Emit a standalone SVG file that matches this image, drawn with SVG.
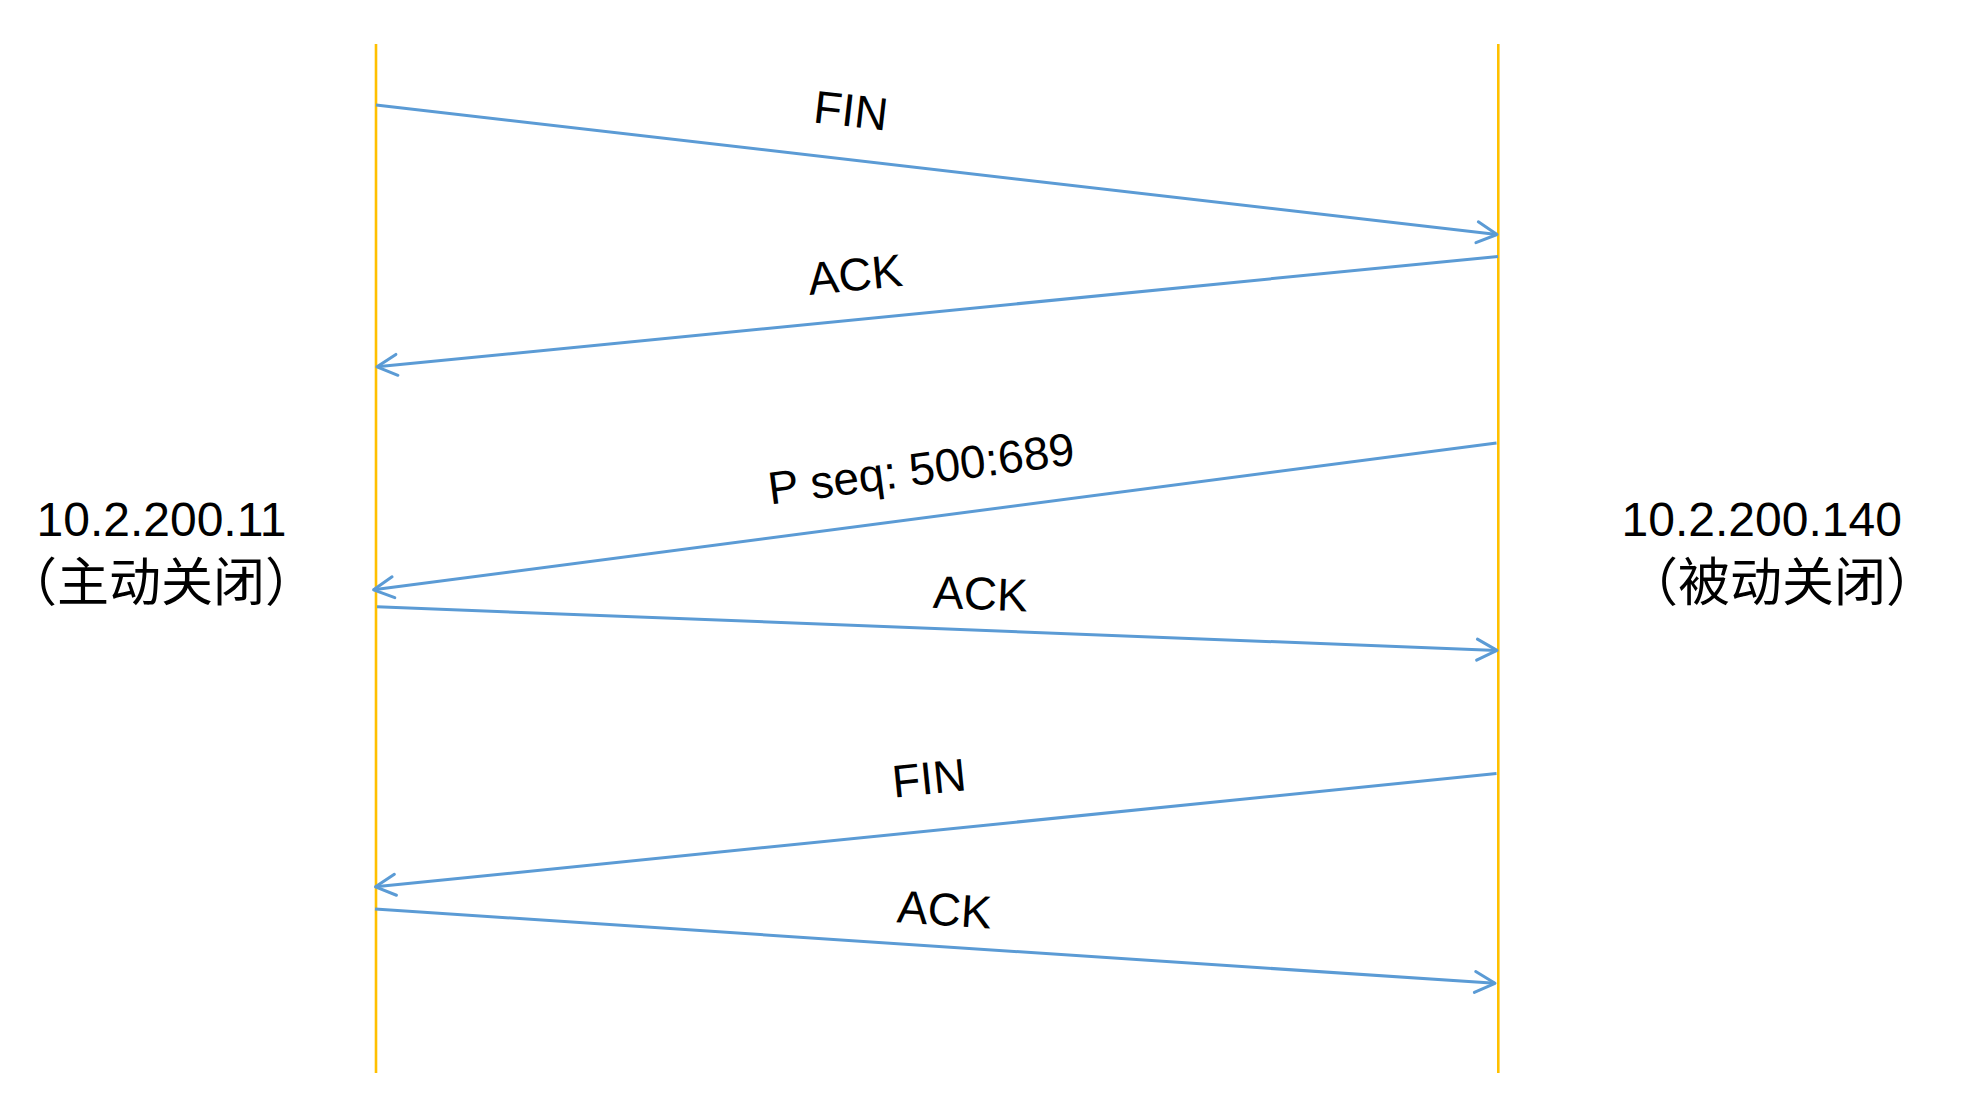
<svg xmlns="http://www.w3.org/2000/svg" width="1986" height="1120" viewBox="0 0 1986 1120">
  <style>
    .life { stroke: #FFC000; stroke-width: 2.6; fill: none; }
    .msg { stroke: #5B9BD5; stroke-width: 3; fill: none; marker-end: url(#arrow); }
    .lbl { font-family: "Liberation Sans", Arial, sans-serif; font-size: 46px; fill: #000; text-anchor: middle; }
    .ip { font-family: "Liberation Sans", Arial, sans-serif; font-size: 48px; fill: #000; text-anchor: middle; }
    .cn { font-family: "Liberation Sans", "Noto Sans CJK SC", sans-serif; font-size: 52px; fill: #000; text-anchor: middle; }
  </style>
  <defs>
    <marker id="arrow" markerUnits="userSpaceOnUse" viewBox="-26 -15 30 30" refX="0" refY="0" markerWidth="30" markerHeight="30" orient="auto">
      <path d="M -20 -10.5 L 0 0 L -20 10.5" fill="none" stroke="#5B9BD5" stroke-width="3" stroke-linecap="round" stroke-linejoin="round"/>
    </marker>
  </defs>
  <rect width="1986" height="1120" fill="#FFFFFF"/>

  <g id="host-active">
    <line class="life" x1="376" y1="44" x2="376" y2="1073"/>
    <text class="ip" x="161.5" y="536">10.2.200.11</text>
    <text class="cn" x="161" y="601">（主动关闭）</text>
  </g>

  <g id="host-passive">
    <line class="life" x1="1498.3" y1="44" x2="1498.3" y2="1073"/>
    <text class="ip" x="1761.7" y="536">10.2.200.140</text>
    <text class="cn" x="1782" y="601">（被动关闭）</text>
  </g>

  <g id="connectors">
    <line class="msg" x1="376" y1="105" x2="1497" y2="234.5"/>
    <line class="msg" x1="1498" y1="256.4" x2="377" y2="366.8"/>
    <line class="msg" x1="1496.5" y1="442.9" x2="373.6" y2="589.8"/>
    <line class="msg" x1="377" y1="606.8" x2="1497" y2="650.4"/>
    <line class="msg" x1="1496.5" y1="773.6" x2="375.5" y2="886.8"/>
    <line class="msg" x1="375" y1="909" x2="1495" y2="983.3"/>
  </g>

  <g id="labels">
    <text class="lbl" transform="translate(851,110) rotate(6.6)" x="0" y="16.5">FIN</text>
    <text class="lbl" transform="translate(855,274) rotate(-5.65)" x="0" y="16.5">ACK</text>
    <text class="lbl" transform="translate(921,468) rotate(-7.5)" x="0" y="16.5">P seq: 500:689</text>
    <text class="lbl" transform="translate(980.5,593) rotate(2.2)" x="0" y="16.5">ACK</text>
    <text class="lbl" transform="translate(929,777.5) rotate(-5.77)" x="0" y="16.5">FIN</text>
    <text class="lbl" transform="translate(944.5,909) rotate(3.8)" x="0" y="16.5">ACK</text>
  </g>
</svg>
